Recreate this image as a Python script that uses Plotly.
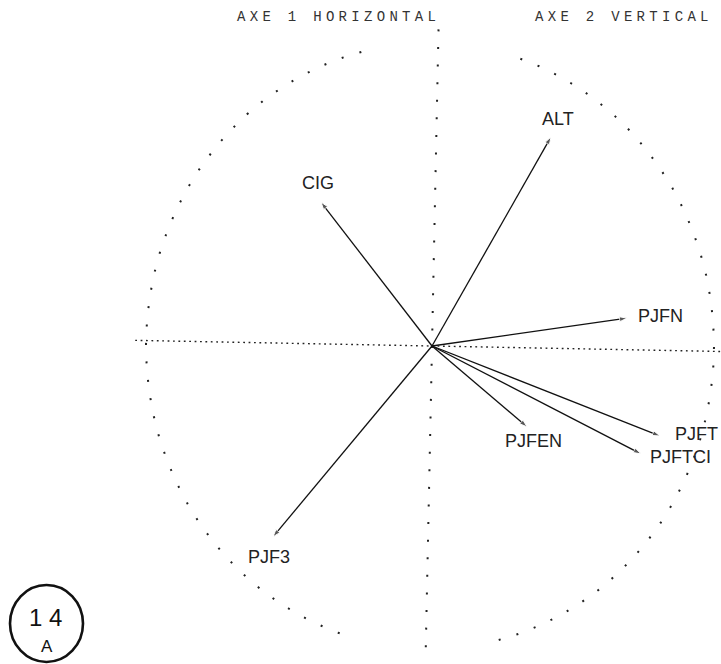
import numpy as np
import plotly.graph_objects as go

# ---- data (correlation circle) ----
variables = ["ALT", "CIG", "PJFN", "PJFT", "PJFTCI", "PJFEN", "PJF3"]
axis1 = [0.419, -0.391, 0.687, 0.803, 0.736, 0.335, -0.560]
axis2 = [0.690, 0.475, 0.092, -0.297, -0.356, -0.267, -0.630]

title_left = "AXE 1 HORIZONTAL"
title_right = "AXE 2 VERTICAL"
stamp_number = "1 4"
stamp_letter = "A"

# ---- label placement (pixel shifts from the arrow tip) ----
label_style = {
    "ALT":    dict(xshift=7,  yshift=18,  xanchor="center"),
    "CIG":    dict(xshift=-3, yshift=19,  xanchor="center"),
    "PJFN":   dict(xshift=9,  yshift=2,   xanchor="left"),
    "PJFT":   dict(xshift=13, yshift=2,   xanchor="left"),
    "PJFTCI": dict(xshift=7,  yshift=-3,  xanchor="left"),
    "PJFEN":  dict(xshift=6,  yshift=-14, xanchor="center"),
    "PJF3":   dict(xshift=-4, yshift=-20, xanchor="center"),
}

W, H = 721, 664
CX, CY = 432, 346        # pixel position of origin
SX, SY = 284, 303        # pixels per unit

def px(xp):
    return xp / W

def py(yp):
    return 1 - yp / H

fig = go.Figure()

# dotted unit circle (gaps at top and bottom as in the scan)
circ_cx = -0.007
for a0, a1 in [(104, 253), (284, 433)]:
    t = np.radians(np.linspace(a0, a1, 400))
    fig.add_trace(go.Scatter(
        x=circ_cx + np.cos(t), y=np.sin(t), mode="lines",
        line=dict(color="#222", width=2, dash="2px,16.5px"),
        hoverinfo="skip", showlegend=False))

# axes (slightly tilted, as in the scanned page)
h_slope = -0.0178
fig.add_trace(go.Scatter(
    x=[-1.045, 1.02], y=[-1.045 * h_slope, 1.02 * h_slope], mode="lines",
    line=dict(color="#222", width=1.4, dash="1.8px,3.6px"),
    hoverinfo="skip", showlegend=False))
v_slope = 0.022
fig.add_trace(go.Scatter(
    x=[1.045 * v_slope, -1.02 * v_slope], y=[1.045, -1.02], mode="lines",
    line=dict(color="#222", width=2, dash="2px,15.6px"),
    hoverinfo="skip", showlegend=False))

# arrows
for name, a, b in zip(variables, axis1, axis2):
    fig.add_trace(go.Scatter(
        x=[0, a], y=[0, b], mode="lines+markers",
        line=dict(color="#111", width=1.3),
        marker=dict(symbol="arrow", size=[0, 8], angleref="previous",
                    color="#111"),
        hoverinfo="skip", showlegend=False))
    st = label_style[name]
    fig.add_annotation(x=a, y=b, xref="x", yref="y", text=name,
                       showarrow=False, xshift=st["xshift"],
                       yshift=st["yshift"], xanchor=st["xanchor"],
                       yanchor="middle",
                       font=dict(family="Liberation Sans", size=18,
                                 color="#222"))

# titles (typewriter)
for txt, xl in [(title_left, 235), (title_right, 533)]:
    fig.add_annotation(x=px(xl), y=py(17), xref="paper", yref="paper",
                       text='<span style="letter-spacing:4.3px">' + txt + "</span>",
                       showarrow=False, xanchor="left", yanchor="middle",
                       font=dict(family="Liberation Mono", size=14,
                                 color="#333"))

# circled stamp
fig.add_shape(type="circle", xref="paper", yref="paper",
              x0=px(10), x1=px(83), y0=py(662), y1=py(585),
              line=dict(color="#111", width=2.6))
fig.add_annotation(x=px(45), y=py(617), xref="paper", yref="paper",
                   text=stamp_number, showarrow=False,
                   xanchor="center", yanchor="middle",
                   font=dict(family="Liberation Sans", size=24, color="#111"))
fig.add_annotation(x=px(47), y=py(646), xref="paper", yref="paper",
                   text=stamp_letter, showarrow=False,
                   xanchor="center", yanchor="middle",
                   font=dict(family="Liberation Sans", size=17, color="#111"))

fig.update_layout(
    width=W, height=H, autosize=False,
    margin=dict(l=0, r=0, t=0, b=0),
    paper_bgcolor="white", plot_bgcolor="white",
    hovermode=False,
    xaxis=dict(visible=False, range=[-CX / SX, (W - CX) / SX]),
    yaxis=dict(visible=False, range=[-(H - CY) / SY, CY / SY]),
)

fig.write_html("out.html",
               config={"displayModeBar": False, "staticPlot": True},
               post_script="document.body.style.margin='0';"
                           "document.body.style.overflow='hidden';")
